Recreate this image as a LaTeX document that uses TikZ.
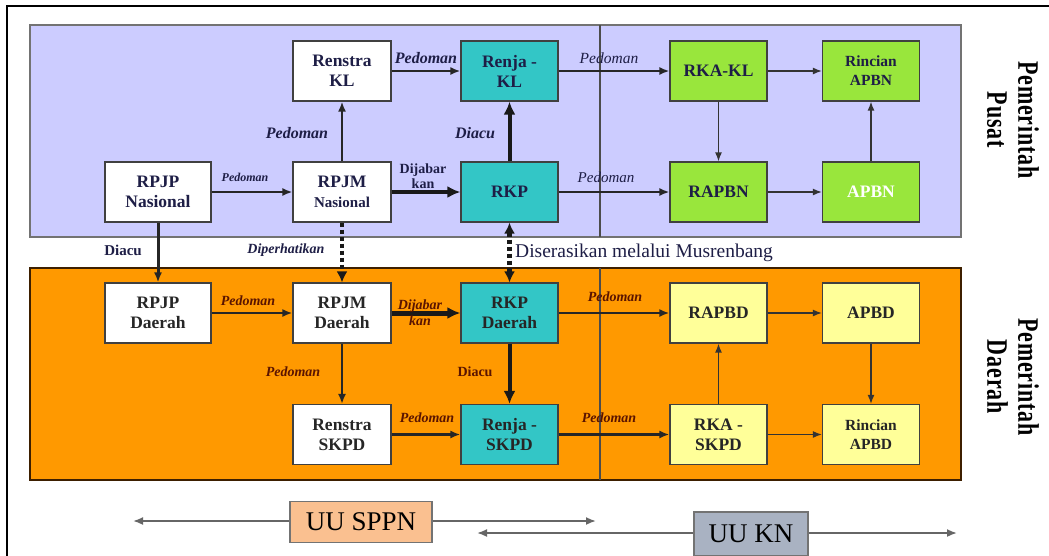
\documentclass[tikz,border=0pt]{standalone}
\usepackage{fontspec}
\setmainfont{Liberation Serif}
\usetikzlibrary{arrows.meta}
\definecolor{bluebg}{HTML}{CCCCFF}
\definecolor{orangebg}{HTML}{FF9900}
\definecolor{tealbox}{HTML}{33C6C6}
\definecolor{greenbox}{HTML}{99E63C}
\definecolor{yellowbox}{HTML}{FFFF99}
\definecolor{navy}{HTML}{1E1E46}
\definecolor{maroonlbl}{HTML}{5A1400}
\definecolor{sppnfill}{HTML}{FAC090}
\definecolor{knfill}{HTML}{A9B2C2}
\tikzset{
  box/.style={draw=black!75, line width=1.2pt, minimum width=97pt, minimum height=60pt,
    align=center, inner sep=1pt, font=\fontsize{17.5}{20}\selectfont\bfseries, text=navy},
  wbox/.style={box, fill=white},
  tbox/.style={box, fill=tealbox},
  gbox/.style={box, fill=greenbox},
  ybox/.style={box, fill=yellowbox},
  arr/.style={-{Latex[length=10pt,width=8pt]}, line width=1.8pt, draw=black!85},
  arrthin/.style={-{Latex[length=9pt,width=7pt]}, line width=1.4pt, draw=black!80},
  arrthick/.style={-{Latex[length=13pt,width=12pt]}, line width=4pt, draw=black!90},
  arrdot/.style={{Latex[length=11pt,width=11pt]}-{Latex[length=11pt,width=11pt]}, line width=4.5pt, draw=black!90, dash pattern=on 4pt off 3pt},
  arrdotone/.style={-{Latex[length=11pt,width=11pt]}, line width=4.5pt, draw=black!90, dash pattern=on 4pt off 3pt},
  lblb/.style={font=\fontsize{16}{18}\selectfont\bfseries\itshape, text=navy, inner sep=0pt},
  lblo/.style={font=\fontsize{14}{16}\selectfont\bfseries\itshape, text=maroonlbl, inner sep=0pt},
  uu/.style={draw=black!55, line width=1.5pt, align=center, font=\fontsize{27}{29}\selectfont},
  uuarr/.style={-{Latex[length=10pt,width=8pt]}, line width=1.8pt, draw=black!60},
  side/.style={xscale=1.35, rotate=-90, align=center, font=\fontsize{22}{23}\selectfont\bfseries\addfontfeature{LetterSpace=4}},
}
\begin{document}
\begin{tikzpicture}[x=1pt,y=-1pt]
\useasboundingbox (0,0) rectangle (1049,555);
\fill[white] (0,0) rectangle (1049,555);
% frame
\draw[line width=2.5pt, black] (7,556) -- (7,6) -- (1050,6);
% regions
\fill[bluebg, draw=black!55, line width=1.5pt] (30,25) rectangle (961,237);
\fill[orangebg, draw=black!60!orange!60!black, line width=1.5pt] (30,268) rectangle (961,480);
\draw[line width=1.4pt, black!70] (600,25) -- (600,237);
\draw[line width=1.4pt, black!70] (600,268) -- (600,480);

% Pemerintah Pusat boxes
\node[wbox, minimum width=98pt] (rensKL) at (342,71) {Renstra\\KL};
\node[tbox] (renjaKL) at (509.5,71) {Renja -\\KL};
\node[gbox] (rkaKL) at (718.5,71) {RKA-KL};
\node[gbox, font=\fontsize{15.5}{19}\selectfont\bfseries] (rincN) at (871,71) {Rincian\\APBN};
\node[wbox, minimum width=106pt] (rpjpN) at (158,192) {RPJP\\Nasional};
\node[wbox, minimum width=98pt] (rpjmN) at (342,192) {RPJM\\{\fontsize{15}{18}\selectfont Nasional}};
\node[tbox] (rkp) at (509.5,192) {RKP};
\node[gbox] (rapbn) at (718.5,192) {RAPBN};
\node[gbox, text=white] (apbn) at (871,192) {APBN};

% Pemerintah Daerah boxes
\node[wbox, minimum width=106pt, text=black!85] (rpjpD) at (158,313) {RPJP\\Daerah};
\node[wbox, minimum width=98pt, text=black!85] (rpjmD) at (342,313) {RPJM\\Daerah};
\node[tbox, text=black!85] (rkpD) at (509.5,313) {RKP\\Daerah};
\node[ybox, text=black!85] (rapbd) at (718.5,313) {RAPBD};
\node[ybox, text=black!85] (apbd) at (871,313) {APBD};
\node[wbox, minimum width=98pt, text=black!85] (rensS) at (342,434.5) {Renstra\\SKPD};
\node[tbox, text=black!85] (renjaS) at (509.5,434.5) {Renja -\\SKPD};
\node[ybox, text=black!85] (rkaS) at (718.5,434.5) {RKA -\\SKPD};
\node[ybox, text=black!85, font=\fontsize{15.5}{19}\selectfont\bfseries] (rincD) at (871,434.5) {Rincian\\APBD};

% arrows Pusat
\draw[arr] (rpjpN) -- (rpjmN);
\draw[arrthick] (rpjmN) -- (rkp);
\draw[arr, line width=2.2pt] (rpjmN) -- (rensKL);
\draw[arr, line width=2.2pt] (rensKL) -- (renjaKL);
\draw[arrthick] (rkp) -- (renjaKL);
\draw[arr] (renjaKL) -- (rkaKL);
\draw[arr] (rkp) -- (rapbn);
\draw[arrthin] (rkaKL) -- (rapbn);
\draw[arrthin] (rkaKL) -- (rincN);
\draw[arrthin] (rapbn) -- (apbn);
\draw[arrthin] (apbn) -- (rincN);

% between
\draw[arr, line width=3pt] (rpjpN) -- (rpjpD);
\draw[arrdotone] (rpjmN) -- (rpjmD);
\draw[arrdot] (rkp) -- (rkpD);

% arrows Daerah
\draw[arr, line width=2.4pt] (rpjpD) -- (rpjmD);
\draw[arrthick, line width=5pt] (rpjmD) -- (rkpD);
\draw[arr] (rpjmD) -- (rensS);
\draw[arrthick] (rkpD) -- (renjaS);
\draw[arr, line width=2.4pt] (rensS) -- (renjaS);
\draw[arr, line width=2.8pt] (rkpD) -- (rapbd);
\draw[arr, line width=2.8pt] (renjaS) -- (rkaS);
\draw[arrthin] (rkaS) -- (rapbd);
\draw[arrthin] (rapbd) -- (apbd);
\draw[arrthin] (apbd) -- (rincD);
\draw[arrthin] (rkaS) -- (rincD);

% labels Pusat
\node[lblb, font=\fontsize{12}{14}\selectfont\bfseries\itshape] (l1) at (245,177) {Pedoman};
\node[lblb] (l2) at (426,58) {Pedoman};
\node[lblb] (l3) at (297,133) {Pedoman};
\node[lblb] (l4) at (475,133) {Diacu};
\node[align=center, font=\fontsize{14}{15}\selectfont\bfseries, text=navy, inner sep=0pt] (l5) at (423,176) {Dijabar\\kan};
\node[lblb, font=\fontsize{15.5}{17}\selectfont\itshape] (l6) at (609,58) {Pedoman};
\node[lblb, font=\fontsize{15}{17}\selectfont\itshape] (l7) at (606,177) {Pedoman};
\node[font=\fontsize{15}{17}\selectfont\bfseries, text=navy, inner sep=0pt] (l8) at (123,250) {Diacu};
\node[lblb, font=\fontsize{14}{16}\selectfont\bfseries\itshape] (l9) at (286,250) {Diperhatikan};
\node[anchor=west, font=\fontsize{19.5}{21}\selectfont, text=navy, inner sep=0pt] (l10) at (515,253) {Diserasikan melalui Musrenbang};

% labels Daerah
\node[lblo] (m1) at (248,301) {Pedoman};
\node[lblo, align=center, font=\fontsize{14}{16}\selectfont\bfseries\itshape] (m2) at (420,313) {Dijabar\\kan};
\node[lblo] (m3) at (293,372) {Pedoman};
\node[font=\fontsize{14}{16}\selectfont\bfseries, text=maroonlbl, inner sep=0pt] (m4) at (475,372) {Diacu};
\node[lblo] (m5) at (427,418) {Pedoman};
\node[lblo] (m6) at (615,297) {Pedoman};
\node[lblo] (m7) at (609,418) {Pedoman};

% side labels
\node[side] (sp) at (1013,120) {Pemerintah\\Pusat};
\node[side] (sd) at (1013,377) {Pemerintah\\Daerah};

% bottom
\node[uu, fill=sppnfill, minimum width=142pt, minimum height=41pt] (sppn) at (361,522) {UU SPPN};
\node[uu, fill=knfill, minimum width=114pt, minimum height=44pt] (kn) at (751,534) {UU KN};
\coordinate (s1) at (133,521);
\coordinate (s2) at (596,521);
\coordinate (k1) at (477,533);
\coordinate (k2) at (957,533);
\draw[uuarr] (sppn.west |- s1) -- (s1);
\draw[uuarr] (sppn.east |- s2) -- (s2);
\draw[uuarr] (kn.west |- k1) -- (k1);
\draw[uuarr] (kn.east |- k2) -- (k2);
\end{tikzpicture}
\end{document}
